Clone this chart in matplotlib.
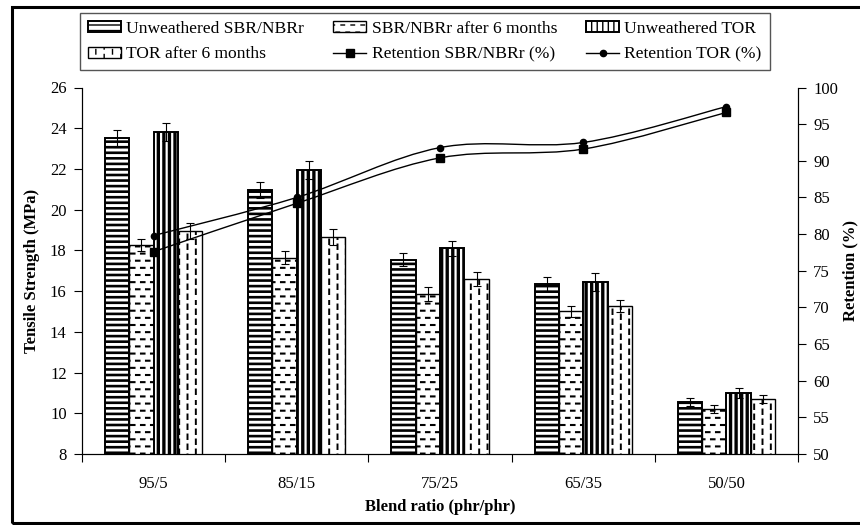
import numpy as np
import matplotlib
matplotlib.use('Agg')
import matplotlib.pyplot as plt
import matplotlib.hatch as mhatch
from matplotlib.path import Path
from matplotlib.patches import PathPatch, Rectangle, Patch
from matplotlib.lines import Line2D

blends = ['95/5', '85/15', '75/25', '65/35', '50/50']

ts_sbr = [23.5, 20.95, 17.55, 16.35, 10.55]
ts_sbr_aged = [18.25, 17.65, 15.85, 15.0, 10.2]
ts_tor = [23.8, 21.95, 18.1, 16.45, 11.0]
ts_tor_aged = [18.95, 18.65, 16.6, 15.25, 10.7]

err_sbr = [0.4, 0.4, 0.33, 0.33, 0.2]
err_sbr_aged = [0.3, 0.33, 0.33, 0.28, 0.2]
err_tor = [0.45, 0.44, 0.38, 0.43, 0.23]
err_tor_aged = [0.4, 0.38, 0.33, 0.3, 0.21]

ret_sbr = [77.6, 84.2, 90.4, 91.6, 96.6]
ret_tor = [79.8, 85.0, 91.8, 92.5, 97.4]


# dashed hatches like the Excel ones ('o' -> dashed rows, 'O' -> dashed columns)
class DashRows(mhatch.HatchPatternBase):
    def __init__(self, hatch, density):
        self.rows, self.cols = (14, 10) if 'o' in hatch else (0, 0)
        self.num_vertices = self.rows * self.cols * 2

    def set_vertices_and_codes(self, vertices, codes):
        k = 0
        for i in range(self.rows):
            y = (i + 0.5) / self.rows
            shift = 0.5 * (i % 2) / self.cols
            for j in range(self.cols):
                x0 = j / self.cols + shift + 0.01
                vertices[k] = (x0, y)
                vertices[k + 1] = (x0 + 0.035, y)
                codes[k] = Path.MOVETO
                codes[k + 1] = Path.LINETO
                k += 2


class DashColumns(mhatch.HatchPatternBase):
    def __init__(self, hatch, density):
        self.cols, self.rows = (12, 10) if 'O' in hatch else (0, 0)
        self.num_vertices = self.rows * self.cols * 2

    def set_vertices_and_codes(self, vertices, codes):
        k = 0
        for j in range(self.cols):
            x = (j + 0.5) / self.cols
            shift = 0.5 * (j % 2) / self.rows
            for i in range(self.rows):
                y0 = i / self.rows + shift + 0.01
                vertices[k] = (x, y0)
                vertices[k + 1] = (x, y0 + 0.045)
                codes[k] = Path.MOVETO
                codes[k + 1] = Path.LINETO
                k += 2


mhatch._hatch_types = [t for t in mhatch._hatch_types
                       if t not in (mhatch.SmallCircles, mhatch.LargeCircles)]
mhatch._hatch_types += [DashRows, DashColumns]


def smooth_path(xs, ys):
    # Excel style smoothed line (Catmull-Rom as cubic Bezier)
    pts = np.column_stack([xs, ys]).astype(float)
    verts = [pts[0]]
    codes = [Path.MOVETO]
    n = len(pts)
    for i in range(n - 1):
        p0 = pts[max(i - 1, 0)]
        p1, p2 = pts[i], pts[i + 1]
        p3 = pts[min(i + 2, n - 1)]
        verts += [p1 + (p2 - p0) / 6, p2 - (p3 - p1) / 6, p2]
        codes += [Path.CURVE4] * 3
    return Path(verts, codes)


plt.rcParams['font.family'] = ['Liberation Serif', 'DejaVu Serif']
plt.rcParams['font.size'] = 12

fig = plt.figure(figsize=(8.6, 5.25), dpi=100)
ax = fig.add_axes([82 / 860, 1 - 454 / 525, 716 / 860, 366.5 / 525])

x = np.arange(len(blends))
w = 0.17
series = [
    (ts_sbr, err_sbr, '---', 1.9, 1.4, 'Unweathered SBR/NBRr'),
    (ts_sbr_aged, err_sbr_aged, 'o', 1.5, 1.0, 'SBR/NBRr after 6 months'),
    (ts_tor, err_tor, '|||', 2.4, 1.4, 'Unweathered TOR'),
    (ts_tor_aged, err_tor_aged, 'O', 1.4, 1.0, 'TOR after 6 months'),
]
handles = []
for k, (vals, errs, hatch, hlw, elw, lab) in enumerate(series):
    pos = x + (k - 1.5) * w
    bars = ax.bar(pos, vals, w, bottom=0, color='white', edgecolor='black',
                  linewidth=elw, hatch=hatch, zorder=1)
    for b in bars:
        b.set_hatch_linewidth(hlw)
    ax.errorbar(pos, vals, yerr=errs, fmt='none', ecolor='black',
                elinewidth=0.8, capsize=2.9, capthick=0.8, zorder=3)
    hp = Patch(facecolor='white', edgecolor='black', linewidth=elw,
               hatch=hatch, label=lab)
    hp.set_hatch_linewidth(hlw)
    handles.append(hp)

ax.set_xlim(-0.5, 4.5)
ax.set_ylim(8, 26)
ax.set_yticks(np.arange(8, 27, 2))
ax.set_xticks(np.arange(-0.5, 5, 1))
ax.set_xticklabels([])
ax.set_xticks(x, minor=True)
ax.set_xticklabels(blends, minor=True)
ax.tick_params(axis='x', which='major', length=6, width=0.8, direction='out')
ax.tick_params(axis='x', which='minor', length=0, pad=16)
ax.tick_params(axis='y', length=6, width=0.8, direction='out', pad=5)
ax.spines['top'].set_visible(False)
for s in ['left', 'bottom', 'right']:
    ax.spines[s].set_linewidth(0.8)
ax.set_ylabel('Tensile Strength (MPa)', fontweight='bold', labelpad=7)
ax.set_xlabel('Blend ratio (phr/phr)', fontweight='bold', labelpad=5)

ax2 = ax.twinx()
ax2.set_ylim(50, 100)
ax2.set_yticks(np.arange(50, 101, 5))
ax2.tick_params(axis='y', length=6, width=0.8, direction='out', pad=5)
ax2.spines['top'].set_visible(False)
ax2.spines['right'].set_linewidth(0.8)
for vals, mk, ms in [(ret_sbr, 's', 5.5), (ret_tor, 'o', 4.5)]:
    ax2.add_patch(PathPatch(smooth_path(x, vals), fill=False,
                            edgecolor='black', linewidth=1.0, zorder=3))
    ax2.plot(x, vals, linestyle='none', marker=mk, markersize=ms,
             color='black', zorder=4)
ax2.set_ylabel('Retention (%)', fontweight='bold', labelpad=3)

line_sbr = Line2D([], [], color='black', lw=1.0, marker='s', markersize=5.5,
                  label='Retention SBR/NBRr (%)')
line_tor = Line2D([], [], color='black', lw=1.0, marker='o', markersize=4.5,
                  label='Retention TOR (%)')
# legend fills column by column
order = [handles[0], handles[3], handles[1], line_sbr, handles[2], line_tor]
leg = fig.legend(handles=order, loc='upper left', ncol=3,
                 bbox_to_anchor=(80 / 860, 1 - 13 / 525), borderaxespad=0,
                 fancybox=False, edgecolor='#555555', framealpha=1,
                 handlelength=1.9, handleheight=0.55, handletextpad=0.3,
                 columnspacing=1.65, labelspacing=0.55, borderpad=0.45,
                 fontsize=12.6)
leg.get_frame().set_linewidth(1.0)

# outer border (right side is cut off in the original)
fig.patches.append(Rectangle((11.5 / 860, 2 / 525), 1.5, 1 - 9 / 525,
                             transform=fig.transFigure, fill=False,
                             edgecolor='black', linewidth=2.2))

fig.savefig('out.png', dpi=100)
